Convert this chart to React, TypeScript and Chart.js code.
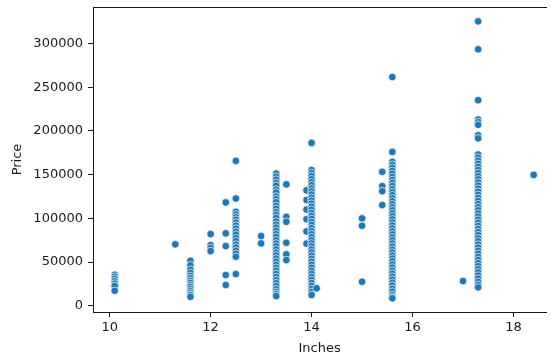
import React, { useEffect, useRef } from "react";
import { Chart, registerables } from "chart.js";

Chart.register(...registerables);

const xTickValues = [10, 12, 14, 16, 18];
const yTickValues = [0, 50000, 100000, 150000, 200000, 250000, 300000];

const screenSizes = [10.1, 11.3, 11.6, 12.0, 12.3, 12.5, 13.0, 13.3, 13.5, 13.9, 14.0, 14.1, 15.0, 15.4, 15.6, 17.0, 17.3, 18.4];

const prices10_1 = [35500, 33200, 30800, 28000, 25400, 22600, 17100];
const prices11_3 = [70200];
const prices11_6 = [51400, 46300, 41200, 37600, 34100, 31300, 28400, 26100, 23300, 21200, 18800, 16600, 14300, 12400, 10300];
const prices12_0 = [82000, 69400, 66100, 62500];
const prices12_3 = [118200, 82800, 68200, 35100, 23700];
const prices12_5 = [165700, 122700, 107400, 104300, 101200, 98400, 95100, 91700, 88300, 84600, 81200, 77300, 73800, 69900, 66600, 62800, 59400, 56000, 36200];
const prices13_0 = [79700, 71300];
const prices13_3 = [151300, 147600, 144200, 140500, 137300, 132800, 129600, 125100, 121900, 118400, 114300, 110800, 107200, 103900, 100400, 96300, 92800, 89400, 85700, 81900, 78600, 74800, 71200, 67900, 64300, 60800, 57600, 53900, 50400, 46800, 43300, 39900, 36400, 32800, 29300, 25900, 22400, 18800, 15600, 13200, 11100];
const prices13_5 = [138800, 101700, 96000, 72000, 58700, 52200];
const prices13_9 = [132000, 121000, 110000, 99000, 85000, 71000];
const prices14_0 = [186300, 155300, 151800, 148400, 144700, 141200, 137900, 134100, 130800, 127300, 123600, 120200, 116700, 113300, 109800, 106100, 102700, 99300, 95800, 92400, 88700, 85200, 81900, 78300, 74800, 71300, 67900, 64400, 60900, 57300, 53800, 50400, 46900, 43400, 39800, 36300, 32900, 29500, 26000, 22600, 19100, 15700, 12300];
const prices14_1 = [19900];
const prices15_0 = [99900, 91400, 27400];
const prices15_4 = [153200, 136800, 131100, 115100];
const prices15_6 = [261700, 176000, 164600, 161200, 157800, 154300, 150900, 147200, 143800, 140400, 136900, 133300, 129900, 126400, 122900, 119500, 116100, 112600, 109200, 105700, 102300, 98800, 95300, 91900, 88400, 85000, 81600, 78100, 74700, 71200, 67800, 64300, 60900, 57400, 54000, 50600, 47100, 43700, 40200, 36800, 33300, 29900, 26400, 23000, 19500, 16100, 12600, 10200, 8500];
const prices17_0 = [28200];
const prices17_3 = [325400, 293400, 235100, 213000, 210000, 207000, 195000, 191500, 173000, 169400, 165900, 162300, 158800, 155200, 151700, 148100, 144600, 141000, 137500, 133900, 130400, 126800, 123300, 119700, 116200, 112600, 109100, 105500, 102000, 98400, 94900, 91300, 87800, 84200, 80700, 77100, 73600, 70000, 66500, 62900, 59400, 55800, 52300, 48700, 45200, 41600, 38100, 34500, 31000, 27400, 23900, 21000];
const prices18_4 = [149700];

const pricesBySize = [
  prices10_1, prices11_3, prices11_6, prices12_0, prices12_3, prices12_5,
  prices13_0, prices13_3, prices13_5, prices13_9, prices14_0, prices14_1,
  prices15_0, prices15_4, prices15_6, prices17_0, prices17_3, prices18_4,
];

const FONT = { family: "'DejaVu Sans', sans-serif", size: 13 };
const INK = "#1a1a1a";

export default function App() {
  const ref = useRef<HTMLCanvasElement | null>(null);

  useEffect(() => {
    document.body.style.margin = "0";
    const canvas = ref.current;
    if (!canvas) return;

    const points: { x: number; y: number }[] = [];
    screenSizes.forEach((size, i) => {
      pricesBySize[i].forEach((p) => points.push({ x: size, y: p }));
    });

    const chart = new Chart(canvas, {
      type: "scatter",
      data: {
        datasets: [
          {
            data: points,
            backgroundColor: "#1f77b4",
            borderColor: "#ffffff",
            borderWidth: 0.7,
            pointRadius: 3.8,
          },
        ],
      },
      options: {
        responsive: false,
        animation: false,
        events: [],
        layout: { padding: { top: 7, right: 0, bottom: 0, left: 0 } },
        plugins: { legend: { display: false }, tooltip: { enabled: false } },
        scales: {
          x: {
            type: "linear",
            position: "bottom",
            min: 9.67,
            max: 18.65,
            afterBuildTicks: (scale: any) => {
              scale.ticks = xTickValues.map((v) => ({ value: v }));
            },
            afterFit: (scale: any) => {
              scale.height = 46;
              scale.paddingLeft = 0;
              scale.paddingRight = 0;
            },
            grid: { display: true, drawOnChartArea: false, drawTicks: true, tickLength: 5, color: INK, lineWidth: 1 },
            border: { display: true, color: INK, width: 1 },
            ticks: { font: FONT, color: INK, padding: 3, maxRotation: 0, callback: (v: any) => String(v) },
            title: { display: true, text: "Inches", font: FONT, color: INK, padding: { top: 0, bottom: 2 } },
          },
          xTop: {
            type: "linear",
            position: "top",
            min: 9.67,
            max: 18.65,
            afterFit: (scale: any) => {
              scale.height = 0;
            },
            grid: { display: false },
            border: { display: true, color: INK, width: 1 },
            ticks: { display: false },
          },
          y: {
            type: "linear",
            position: "left",
            min: -7200,
            max: 341800,
            afterBuildTicks: (scale: any) => {
              scale.ticks = yTickValues.map((v) => ({ value: v }));
            },
            afterFit: (scale: any) => {
              scale.width = 93;
              scale.paddingTop = 0;
              scale.paddingBottom = 0;
            },
            grid: { display: true, drawOnChartArea: false, drawTicks: true, tickLength: 5, color: INK, lineWidth: 1 },
            border: { display: true, color: INK, width: 1 },
            ticks: { font: FONT, color: INK, padding: 5, callback: (v: any) => String(v) },
            title: { display: true, text: "Price", font: FONT, color: INK, padding: { top: 10, bottom: 0 } },
          },
        },
      },
    } as any);

    return () => chart.destroy();
  }, []);

  return (
    <div style={{ width: 551, height: 358 }}>
      <canvas ref={ref} width={551} height={358} />
    </div>
  );
}
